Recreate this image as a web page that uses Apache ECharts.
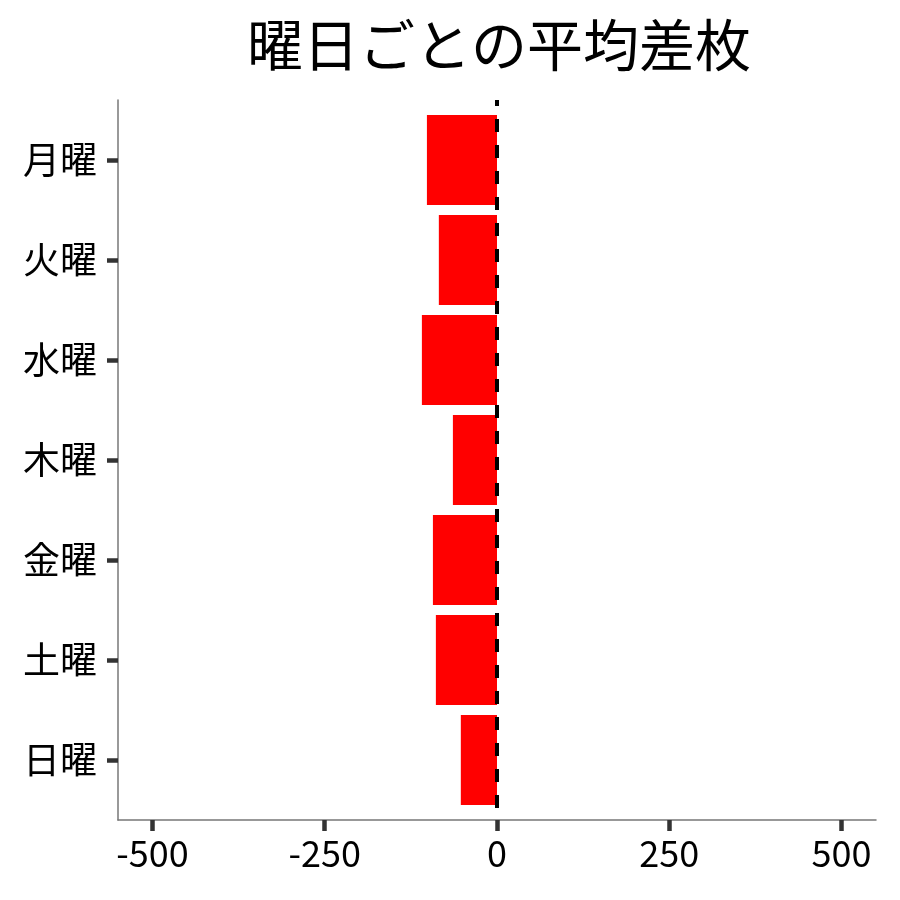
<!DOCTYPE html>
<html><head><meta charset="utf-8">
<script src="https://cdn.jsdelivr.net/npm/echarts@6/dist/echarts.min.js"></script>
<style>html,body{margin:0;padding:0;background:#fff}#c{width:900px;height:900px}</style>
</head><body><div id="c"></div>
<script>
const title = '曜日ごとの平均差枚';
const days = ['月曜','火曜','水曜','木曜','金曜','土曜','日曜'];
const avgDiff = [-101.7, -84.4, -109, -64, -93, -88.7, -52.5];
const xTicks = [-500, -250, 0, 250, 500];
const zeroLine = [[0, 0.4], [0, 7.6]];

const font = '"Noto Sans CJK JP", "Noto Sans", sans-serif';
const chart = echarts.init(document.getElementById('c'), null, {renderer: 'canvas'});
const barData = avgDiff.map((v, i) => [v, i + 1]);
const yPos = days.map((d, i) => i + 1);

chart.setOption({
  animation: false,
  backgroundColor: '#fff',
  title: {
    text: title, left: 494, top: 12, textAlign: 'center',
    textStyle: {fontFamily: font, fontSize: 56, fontWeight: 'normal', color: '#000'}
  },
  grid: {left: 118, right: 24, top: 100, bottom: 80},
  xAxis: {
    type: 'value', min: -550, max: 550,
    axisLine: {show: true, onZero: false, lineStyle: {color: '#777', width: 1.5}},
    axisTick: {show: true, customValues: xTicks, length: 11, lineStyle: {color: '#333', width: 4.5}},
    axisLabel: {customValues: xTicks, fontFamily: font, fontSize: 36, color: '#000', margin: 15},
    splitLine: {show: false}
  },
  yAxis: {
    type: 'value', min: 0.4, max: 7.6, inverse: true,
    axisLine: {show: true, onZero: false, lineStyle: {color: '#777', width: 1.5}},
    axisTick: {show: true, customValues: yPos, length: 11, lineStyle: {color: '#333', width: 4.5}},
    axisLabel: {customValues: yPos, fontFamily: font, fontSize: 37, color: '#000', margin: 21,
      formatter: v => days[Math.round(v) - 1] || ''},
    splitLine: {show: false}
  },
  series: [
    {
      type: 'custom',
      data: barData,
      encode: {x: 0, y: 1},
      renderItem: function (params, api) {
        const v = api.value(0), y = api.value(1);
        const p0 = api.coord([0, y]);
        const p1 = api.coord([v, y]);
        const h = api.size([0, 0.9])[1];
        return {
          type: 'rect',
          shape: {x: Math.min(p0[0], p1[0]), y: p0[1] - h / 2, width: Math.abs(p1[0] - p0[0]), height: h},
          style: {fill: '#FF0000'}
        };
      },
      z: 2
    },
    {
      type: 'line',
      data: zeroLine,
      symbol: 'none',
      lineStyle: {color: '#000', width: 4, type: [13, 13], dashOffset: 7},
      z: 3
    }
  ]
});
</script></body></html>
